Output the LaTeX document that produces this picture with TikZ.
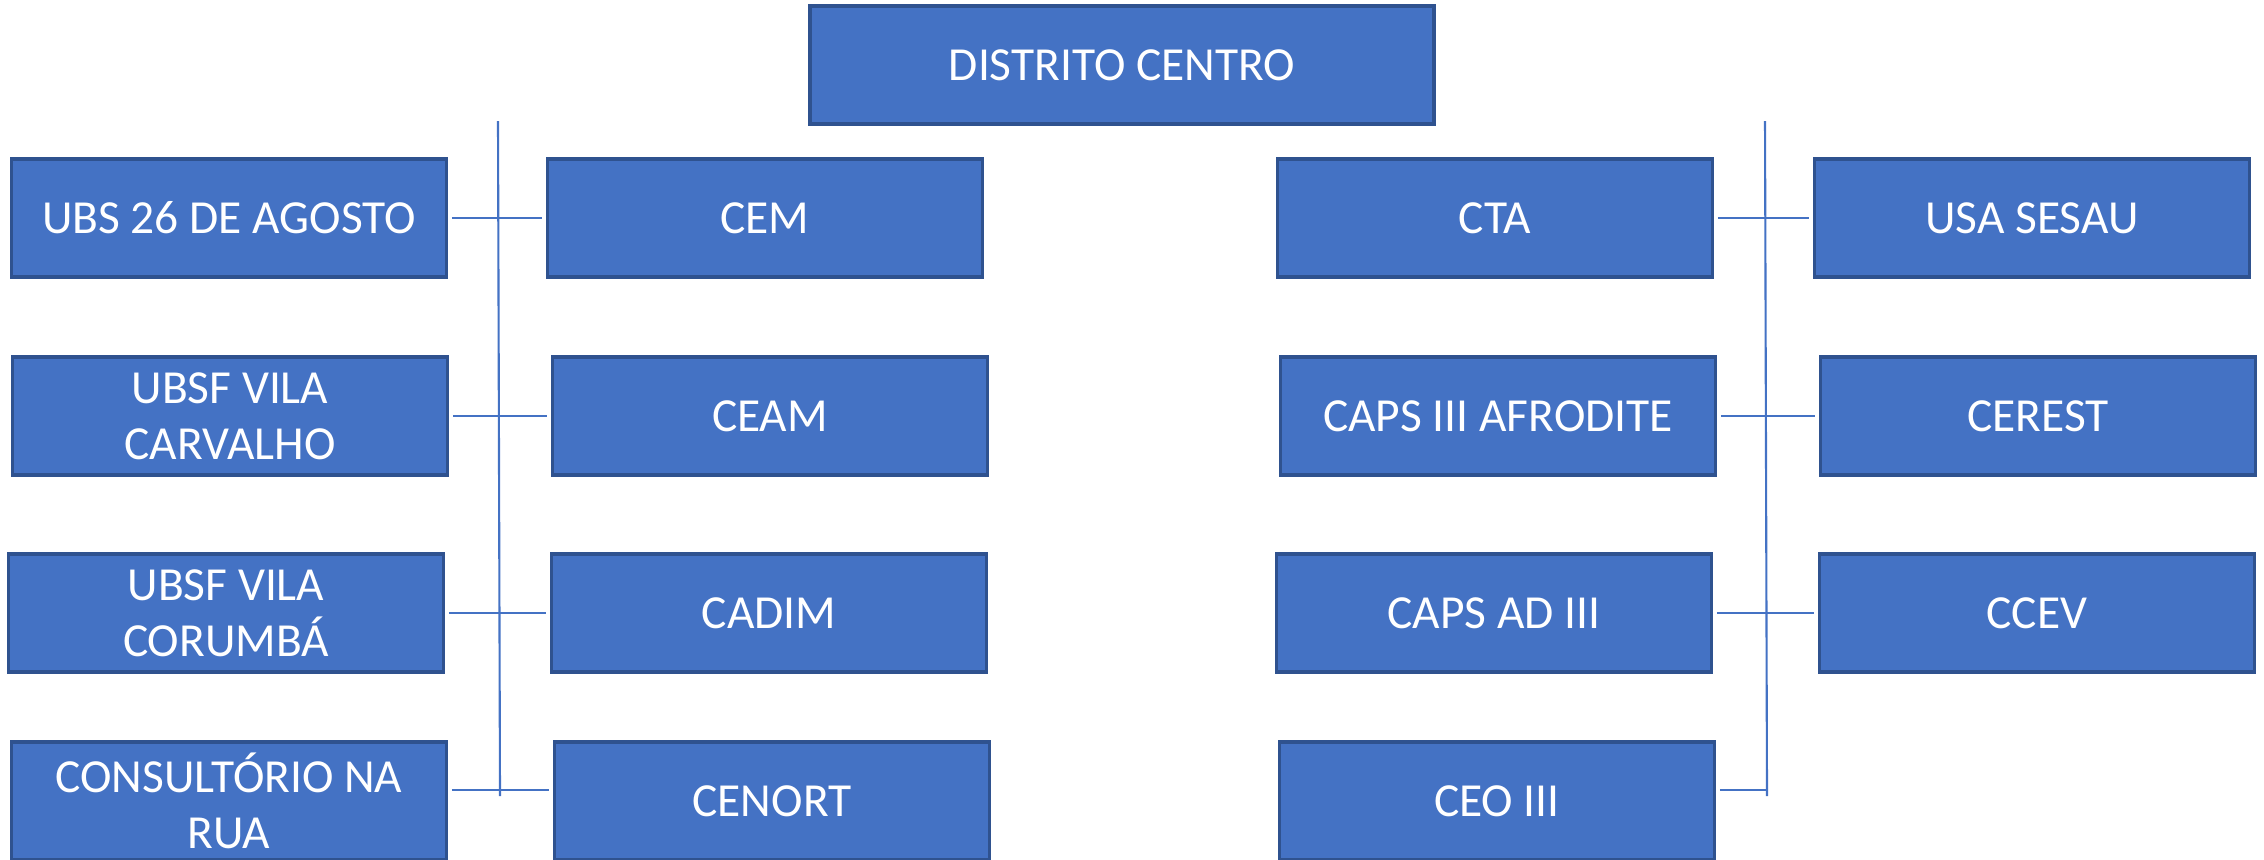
\documentclass[tikz,border=0pt]{standalone}
\usepackage{fontspec}
\setmainfont{Carlito}
\usepackage{tikz}
\definecolor{officeblue}{HTML}{4472C4}
\definecolor{officeedge}{HTML}{2F528F}

\begin{document}
\begin{tikzpicture}[x=0.1mm,y=-0.1mm,
    unit/.style={draw=officeedge,line width=1pt,fill=officeblue,text=white,
                 minimum width=43.5mm,minimum height=11.8mm,inner sep=0pt,
                 align=center,font=\fontsize{13.5}{16}\selectfont},
    link/.style={draw=officeblue,line width=0.6pt,shorten <=1pt,shorten >=1pt}]
\useasboundingbox (0,0) rectangle (2264,859);
\node[unit,minimum width=62.4mm] (distrito) at (1122,65) {DISTRITO CENTRO};
\node[unit] (ubs) at (229,218) {UBS 26 DE AGOSTO};
\node[unit] (carvalho) at (230,416) {UBSF VILA\\CARVALHO};
\node[unit] (corumba) at (226,613) {UBSF VILA\\CORUMBÁ};
\node[unit] (rua) at (229,801) {CONSULTÓRIO NA\\RUA};
\node[unit] (cem) at (765,218) {CEM};
\node[unit] (ceam) at (770,416) {CEAM};
\node[unit] (cadim) at (769,613) {CADIM};
\node[unit] (cenort) at (772,801) {CENORT};
\node[unit] (cta) at (1495,218) {CTA};
\node[unit] (afrodite) at (1498,416) {CAPS III AFRODITE};
\node[unit] (capsad) at (1494,613) {CAPS AD III};
\node[unit] (ceo) at (1497,801) {CEO III};
\node[unit] (sesau) at (2032,218) {USA SESAU};
\node[unit] (cerest) at (2038,416) {CEREST};
\node[unit] (ccev) at (2037,613) {CCEV};
\coordinate (ltop) at (498,121);
\coordinate (lbot) at (500,796);
\coordinate (rtop) at (1765,121);
\coordinate (rbot) at (1767,796);
\draw[link,shorten <=0pt,shorten >=0pt] (ltop) -- (lbot);
\draw[link,shorten <=0pt,shorten >=0pt] (rtop) -- (rbot);
\draw[link] (ubs) -- (cem);
\draw[link] (carvalho) -- (ceam);
\draw[link] (corumba) -- (cadim);
\draw[link] ([yshift=1.1mm]rua.east) -- ([yshift=1.1mm]cenort.west);
\draw[link] (cta) -- (sesau);
\draw[link] (afrodite) -- (cerest);
\draw[link] (capsad) -- (ccev);
\draw[link,shorten >=0pt] ([yshift=1.1mm]ceo.east) -- ([yshift=1.1mm]ceo.east -| rbot);
\end{tikzpicture}
\end{document}
